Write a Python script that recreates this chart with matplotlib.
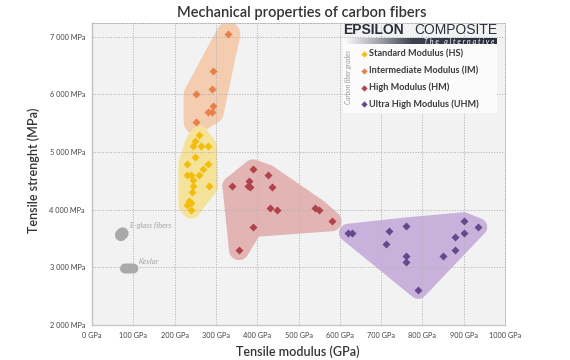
import numpy as np
import matplotlib
matplotlib.use('Agg')
import matplotlib.pyplot as plt
from matplotlib.patches import Polygon, Rectangle
from matplotlib.colors import LinearSegmentedColormap

plt.rcParams['font.family'] = ['Lato', 'DejaVu Sans']

# --- data (GPa, MPa) ---
hs_mod = [260, 250, 244, 264, 281, 250, 231, 280, 269, 231, 240, 260, 245, 245, 284, 243, 235, 239, 231, 240]
hs_str = [5300, 5200, 5100, 5100, 5100, 4910, 4800, 4800, 4700, 4600, 4600, 4600, 4510, 4410, 4410, 4310, 4150, 4120, 4090, 4000]

im_mod = [330, 292, 290, 251, 292, 281, 290, 251]
im_str = [7050, 6400, 6100, 6000, 5800, 5690, 5690, 5520]

hm_mod = [390, 425, 380, 340, 377, 382, 435, 431, 449, 540, 549, 580, 390, 356]
hm_str = [4700, 4610, 4500, 4410, 4410, 4400, 4400, 4030, 4000, 4030, 4000, 3800, 3700, 3300]

uhm_mod = [620, 630, 719, 760, 711, 760, 760, 790, 850, 880, 880, 900, 900, 935]
uhm_str = [3600, 3600, 3630, 3710, 3400, 3200, 3100, 2610, 3200, 3300, 3530, 3600, 3800, 3700]

glass_mod = [70, 74]
glass_str = [3560, 3590]
kevlar_mod = [80, 100]
kevlar_str = [2980, 2980]

grades = ['Standard Modulus (HS)', 'Intermediate Modulus (IM)', 'High Modulus (HM)', 'Ultra High Modulus (UHM)']
pt_colors = ['#f2bd0c', '#e8804a', '#b1424b', '#67478e']
blob_colors = ['#f6e39b', '#f4cdb0', '#e2b4b4', '#c8b1da']

x_ticks = np.arange(0, 1001, 100)
y_ticks = np.arange(2000, 7001, 1000)

fig = plt.figure(figsize=(5.7, 3.6), dpi=100)
fig.set_facecolor('w')
ax = fig.add_axes([92 / 570, 1 - 325 / 360, 413 / 570, 302 / 360])
ax.set_xlim(0, 1000)
ax.set_ylim(2000, 7240)
ax.set_facecolor('#f2f2f2')


def hull(pts):
    pts = sorted(set(map(tuple, pts)))
    def cross(o, a, b):
        return (a[0] - o[0]) * (b[1] - o[1]) - (a[1] - o[1]) * (b[0] - o[0])
    lower, upper = [], []
    for p in pts:
        while len(lower) >= 2 and cross(lower[-2], lower[-1], p) <= 0:
            lower.pop()
        lower.append(p)
    for p in reversed(pts):
        while len(upper) >= 2 and cross(upper[-2], upper[-1], p) <= 0:
            upper.pop()
        upper.append(p)
    return lower[:-1] + upper[:-1]


def blob(xs, ys, r, color, z):
    # convex hull of the points grown by r pixels, drawn in data coords
    px = ax.transData.transform(np.column_stack([xs, ys]))
    t = np.linspace(0, 2 * np.pi, 40, endpoint=False)
    ring = np.column_stack([np.cos(t), np.sin(t)]) * r
    grown = (px[:, None, :] + ring[None, :, :]).reshape(-1, 2)
    h = np.array(hull(np.round(grown, 3)))
    data = ax.transData.inverted().transform(h)
    ax.add_patch(Polygon(data, closed=True, fc=color, ec='none', zorder=z))


blob(uhm_mod, uhm_str, 9, blob_colors[3], 1.0)
blob(hm_mod[:-1], hm_str[:-1], 10, blob_colors[2], 1.1)
low = [3, 12, 13]
blob([hm_mod[i] for i in low], [hm_str[i] for i in low], 10, blob_colors[2], 1.1)
blob(im_mod, im_str, 12, blob_colors[1], 1.0)
blob(hs_mod, hs_str, 9, blob_colors[0], 1.2)
blob(glass_mod, glass_str, 6, '#a9a9a9', 1.3)
blob(kevlar_mod, kevlar_str, 5, '#a9a9a9', 1.3)

for mx, sy, c in zip([hs_mod, im_mod, hm_mod, uhm_mod], [hs_str, im_str, hm_str, uhm_str], pt_colors):
    ax.plot(mx, sy, 'D', color=c, ms=3.6, mec='none', zorder=3)

ax.text(92, 3720, 'E-glass fibers', fontsize=5.5, style='italic', color='#a8a8a8', va='center')
ax.text(114, 3100, 'Kevlar', fontsize=5.5, style='italic', color='#a8a8a8', va='center')

ax.set_axisbelow(False)
ax.grid(True, color='#b5b5b5', lw=0.7, ls=(0, (1.2, 1.5)), zorder=2.5)
ax.set_xticks(x_ticks)
ax.set_yticks(y_ticks)
ax.set_xticklabels([f'{v} GPa' for v in x_ticks])
ax.set_yticklabels([f'{v // 1000} 000 MPa' for v in y_ticks])
ax.tick_params(length=0, labelsize=5.3, colors='#444444', pad=5)
for s in ['left', 'bottom']:
    ax.spines[s].set_color('#c8c8c8')
    ax.spines[s].set_linewidth(1.0)
for s in ['top', 'right']:
    ax.spines[s].set_color('#b5b5b5')
    ax.spines[s].set_linewidth(0.7)
    ax.spines[s].set_linestyle((0, (1.2, 1.5)))

fig.text(298 / 570, 1 - 352 / 360, 'Tensile modulus (GPa)', ha='center', va='center', fontsize=9,
         fontweight='semibold', color='#333333')
fig.text(34 / 570, 1 - 170 / 360, 'Tensile strenght (MPa)', ha='center', va='center', rotation=90,
         fontsize=9, fontweight='semibold', color='#333333')
fig.text(302 / 570, 1 - 13 / 360, 'Mechanical properties of carbon fibers', ha='center', va='center',
         fontsize=10.5, fontweight='semibold', color='#333333')

# legend / branding box
fig.patches.append(Rectangle((343 / 570, 1 - 113 / 360), 154 / 570, 69 / 360, transform=fig.transFigure,
                             fc='#fbfbfb', ec='none', zorder=5))
fig.text(343 / 570, 1 - 30 / 360, 'EPSILON', fontsize=10, fontweight='bold', color='#2b2f3d',
         family='Liberation Sans', va='center', ha='left', zorder=6)
fig.text(497 / 570, 1 - 30 / 360, 'COMPOSITE', fontsize=10, color='#2b2f3d',
         family='Liberation Sans', va='center', ha='right', zorder=6)
bar = fig.add_axes([343 / 570, 1 - 44.5 / 360, 154 / 570, 6.5 / 360], zorder=6)
cmap = LinearSegmentedColormap.from_list('bar', [(0, '#ffffff'), (0.25, '#9a9ca4'), (0.45, '#3e4250'),
                                                 (1, '#2b2f3d')])
bar.imshow(np.linspace(0, 1, 256)[None, :], aspect='auto', cmap=cmap)
bar.set_axis_off()
bar.text(0.985, 0.5, 'T h e   a l t e r n a t i v e', transform=bar.transAxes, fontsize=5.2,
         style='italic', color='white', ha='right', va='center')
fig.text(348 / 570, 1 - 77 / 360, 'Carbon fiber grades', rotation=90, fontsize=4.8, style='italic',
         color='#9a9a9a', ha='center', va='center', zorder=6)
leg_y = [54, 71, 87.7, 104]
for name, c, yy in zip(grades, pt_colors, leg_y):
    fig.lines.append(plt.Line2D([364.3 / 570], [1 - yy / 360], marker='D', ms=3.2, color=c, mec='none',
                                transform=fig.transFigure, zorder=6))
    fig.text(369 / 570, 1 - yy / 360, name, fontsize=6.6, fontweight='bold', color='#3a3a3a',
             ha='left', va='center', zorder=6)

fig.savefig('out.png', dpi=100)
